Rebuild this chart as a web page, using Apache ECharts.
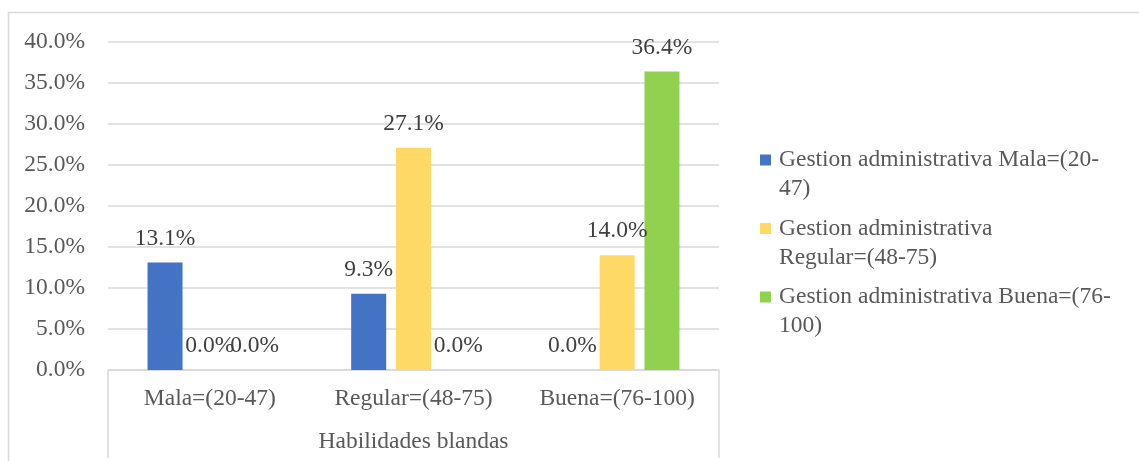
<!DOCTYPE html>
<html>
<head>
<meta charset="utf-8">
<script src="https://cdn.jsdelivr.net/npm/echarts@6/dist/echarts.min.js"></script>
<style>
  html, body { margin: 0; padding: 0; background: #ffffff; }
  #chart { width: 1139px; height: 461px; }
</style>
</head>
<body>
<div id="chart"></div>
<script>
// Categories on the x axis (Habilidades blandas levels)
const categories = ['Mala=(20-47)', 'Regular=(48-75)', 'Buena=(76-100)'];
const groupTitle = ['Habilidades blandas'];

// Series names and the two legend lines for each
const seriesNames = [
  'Gestion administrativa Mala=(20-47)',
  'Gestion administrativa Regular=(48-75)',
  'Gestion administrativa Buena=(76-100)'
];
const legendLines = [
  ['Gestion administrativa Mala=(20-', '47)'],
  ['Gestion administrativa', 'Regular=(48-75)'],
  ['Gestion administrativa Buena=(76-', '100)']
];

// Percent values per series
const mala = [13.1, 9.3, 0.0];
const regular = [0.0, 27.1, 14.0];
const buena = [0.0, 0.0, 36.4];

const colors = ['#4472C4', '#FFD966', '#92D050'];
const FONT = '"Liberation Serif", "Times New Roman", serif';
const FS = 23.5;
const LH = 29;

const chart = echarts.init(document.getElementById('chart'), null, { renderer: 'canvas' });

const gridRect = { left: 108, right: 420, top: 42, bottom: 91 };

function pct(v) { return v.toFixed(1) + '%'; }

const seriesData = [mala, regular, buena];
const series = seriesData.map((d, i) => ({
  name: seriesNames[i],
  type: 'bar',
  xAxisIndex: 0,
  yAxisIndex: 0,
  data: d,
  barWidth: 35,
  barGap: '28%',
  itemStyle: { color: colors[i] },
  label: {
    show: true,
    position: 'top',
    distance: 12,
    formatter: p => pct(p.value),
    fontFamily: FONT,
    fontSize: FS,
    color: '#404040'
  }
}));

// An empty first line keeps the legend square level with the first text line
function legendFormatter(name) {
  const lines = legendLines[seriesNames.indexOf(name)];
  return '{pad| }\n{t|' + lines[0] + '}\n{t|' + lines[1] + '}';
}

const option = {
  animation: false,
  backgroundColor: '#ffffff',
  graphic: [{
    type: 'rect',
    shape: { x: 8.5, y: 12.5, width: 1200, height: 500 },
    style: { fill: 'none', stroke: '#d9d9d9', lineWidth: 1.5 },
    silent: true,
    z: -10
  }],
  grid: [
    Object.assign({}, gridRect),
    Object.assign({}, gridRect)
  ],
  legend: {
    orient: 'vertical',
    left: 760,
    top: 116.5,
    padding: 0,
    itemGap: -18.5,
    itemWidth: 11,
    itemHeight: 11,
    icon: 'rect',
    data: seriesNames,
    formatter: legendFormatter,
    textStyle: {
      fontFamily: FONT,
      fontSize: FS,
      color: '#595959',
      lineHeight: LH,
      rich: {
        pad: { fontFamily: FONT, fontSize: FS, lineHeight: LH, color: '#595959' },
        t: { fontFamily: FONT, fontSize: FS, lineHeight: LH, color: '#595959', padding: [0, 0, 0, 3] }
      }
    }
  },
  xAxis: [
    {
      type: 'category',
      gridIndex: 0,
      data: categories,
      axisLine: { show: true, lineStyle: { color: '#d9d9d9', width: 1.5 } },
      axisTick: { show: false },
      axisLabel: {
        interval: 0,
        margin: 17,
        fontFamily: FONT,
        fontSize: FS,
        color: '#595959'
      }
    },
    {
      type: 'category',
      gridIndex: 1,
      data: groupTitle,
      position: 'bottom',
      axisLine: { show: false },
      axisTick: { show: true, length: 88, lineStyle: { color: '#d9d9d9', width: 1.5 } },
      axisLabel: {
        margin: 60,
        fontFamily: FONT,
        fontSize: FS,
        color: '#595959'
      }
    }
  ],
  yAxis: [
    {
      type: 'value',
      gridIndex: 0,
      min: 0,
      max: 40,
      interval: 5,
      axisLine: { show: false },
      axisTick: { show: false },
      splitLine: { lineStyle: { color: '#d9d9d9', width: 1.5 } },
      axisLabel: {
        margin: 23,
        formatter: v => pct(v),
        fontFamily: FONT,
        fontSize: FS,
        color: '#595959'
      }
    },
    {
      type: 'value',
      gridIndex: 1,
      min: 0,
      max: 40,
      show: false
    }
  ],
  series: series
};

chart.setOption(option);
</script>
</body>
</html>
